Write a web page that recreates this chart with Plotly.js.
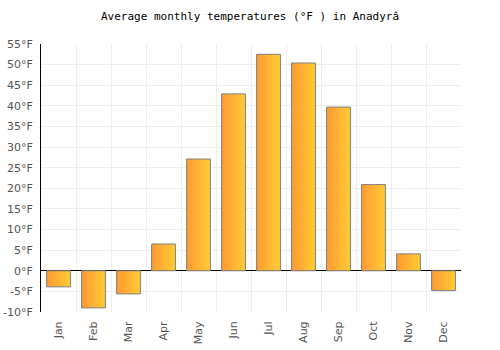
<!DOCTYPE html>
<html>
<head>
<meta charset="utf-8">
<script src="https://cdn.plot.ly/plotly-3.0.1.min.js"></script>
<style>html,body{margin:0;padding:0;background:#fff;}#chart{width:500px;height:350px;}</style>
</head>
<body>
<div id="chart"></div>
<script>
const months = ["Jan","Feb","Mar","Apr","May","Jun","Jul","Aug","Sep","Oct","Nov","Dec"];
const tempsF = [-3.9, -9.0, -5.6, 6.5, 27.1, 42.9, 52.5, 50.4, 39.7, 20.9, 4.1, -4.8];
const yTicks = [-10,-5,0,5,10,15,20,25,30,35,40,45,50,55];

const half = 0.34;
const traces = tempsF.map((v, i) => ({
  type: 'scatter',
  mode: 'lines',
  x: [i - half, i + half, i + half, i - half, i - half],
  y: [0, 0, v, v, 0],
  fill: 'toself',
  fillgradient: {type: 'horizontal', colorscale: [[0, '#ff9933'], [1, '#ffcc33']]},
  line: {color: '#808080', width: 1},
  hoverinfo: 'skip',
  showlegend: false
}));

const boundaries = months.map((m, i) => i - 0.5).concat([months.length - 0.5]);
traces.push({type:'scatter', mode:'none', x:[-0.5, 11.5], y:[0,0], xaxis:'x2', hoverinfo:'skip', showlegend:false});

const layout = {
  width: 500, height: 350,
  margin: {l: 41, r: 39, t: 44, b: 38},
  paper_bgcolor: '#ffffff', plot_bgcolor: '#ffffff',
  title: {text: 'Average monthly temperatures (°F ) in Anadyrâ', x: 0.5, xanchor: 'center', y: 0.955, yanchor: 'middle',
          font: {family: 'DejaVu Sans Mono, monospace', size: 11, color: '#000'}},
  xaxis: {
    range: [-0.5, 11.5], tickmode: 'array', tickvals: months.map((m, i) => i), ticktext: months,
    tickangle: -90, showgrid: false, zeroline: false, showline: false,
    ticks: 'outside', ticklen: 4, tickcolor: 'rgba(0,0,0,0)',
    tickfont: {family: 'DejaVu Sans, Verdana, sans-serif', size: 11, color: '#555'}, fixedrange: true
  },
  xaxis2: {
    overlaying: 'x', range: [-0.5, 11.5], tickmode: 'array', tickvals: boundaries,
    showticklabels: false, showgrid: true, gridcolor: '#eeeeee', gridwidth: 1, zeroline: false, ticks: ''
  },
  yaxis: {
    range: [-10, 55], tickmode: 'array', tickvals: yTicks, ticktext: yTicks.map(t => t + '°F'),
    showgrid: true, gridcolor: '#eeeeee', gridwidth: 1,
    zeroline: true, zerolinecolor: '#000000', zerolinewidth: 1,
    showline: true, linecolor: '#000000', linewidth: 1,
    ticks: 'outside', ticklen: 5, tickcolor: 'rgba(0,0,0,0)',
    tickfont: {family: 'DejaVu Sans, Verdana, sans-serif', size: 11, color: '#555'}
  },
  showlegend: false
};

Plotly.newPlot('chart', traces, layout, {staticPlot: true, displayModeBar: false});
</script>
</body>
</html>
